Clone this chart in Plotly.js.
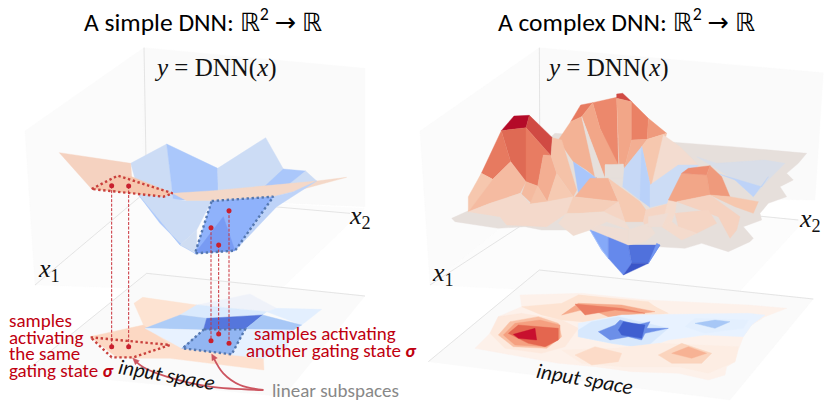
<!DOCTYPE html>
<html><head><meta charset="utf-8">
<script src="https://cdn.plot.ly/plotly-3.0.1.min.js"></script>
<style>html,body{margin:0;padding:0;background:#fff}#c{width:830px;height:407px}</style></head>
<body><div id="c"></div>
<script>
// Colour scales for the height (surface) and the projection on the input plane
const scaleStops = [-1,-0.75,-0.5,-0.3,-0.15,0,0.15,0.3,0.5,0.65,0.8,1];
const scaleColors = ['#3a55c8','#5f83ea','#8fb2fb','#adc9fb','#ccdcf5','#e4e0dd','#f4dccf','#f6c7ae','#f2a688','#ea8165','#d95f4c','#b40a28'];
const floorStops = [-1,-0.75,-0.5,-0.25,-0.12,0,0.2,0.4,0.6,0.8,1];
const floorColors = ['#3f5fd0','#6c8fe8','#9cc0f5','#d2e5fc','#e8f2ff','#fdf3ee','#fde3d2','#f9c4a8','#f5a080','#e4664f','#c8102e'];

// Panel 1: walls
const wallsA = [[432,143,75,393,105,855,425,590],[432,143,1095,205,1095,620,425,590],[105,855,425,590,1095,625,830,880],[440,820,1095,888,850,1190,75,1115]];
const wallColorsA = ['#fbfbfb','#fafafa','#fcfcfc','#fafafa'];
// Panel 1: lower plane, values per facet
const floorValsA = [0.2,0.22,0.27,-0.08,-0.15,-0.2,-0.42,-0.12,-0.88,-0.45,-0.13,-0.55];
const floorA = [
[402,910,428,892,590,915,640,945,435,985,420,950],
[435,985,620,990,700,1010,790,1075,792,1110,510,1075,398,1075,270,1010],
[270,1010,430,975,510,1035,398,1075,350,1072],
[590,915,750,882,830,925,800,935],
[830,925,965,928,905,975,800,935],
[540,945,590,915,800,935,788,945,620,955],
[435,985,540,945,620,955,610,990],
[435,985,610,990,545,1045],
[620,955,788,945,735,988,610,990],
[788,945,905,975,880,990,735,988],
[735,988,880,990,860,1045,790,1075,695,1065],
[610,990,735,988,695,1063,545,1045]];
const floorLoopRedA = [272,1012,510,1035,400,1072,335,1072];
const floorLoopBlueA = [612,988,735,988,695,1063,548,1045];

// Panel 1: surface, values per facet
const surfValsA = [-0.15,-0.32,-0.15,-0.32,-0.15,0.22,0.18,0.3,-0.15,-0.32,-0.13,-0.22,-0.5,-0.62];
const surfA = [
[392,490,500,432,520,600,420,590],
[500,432,653,505,655,600,520,600],
[653,505,797,413,850,507,815,600,655,600],
[850,507,917,513,820,600,750,600],
[917,513,950,543,880,570,820,590],
[178,458,392,490,395,530,275,567],
[518,580,640,572,950,543,1040,532,880,575,820,590,640,602,560,602],
[275,567,353,527,395,530,518,580,490,590],
[418,588,490,592,560,603,635,603,590,690,540,735],
[418,588,540,735,585,760,540,730,480,670],
[540,735,590,690,590,760],
[820,590,880,575,950,543,830,620,705,752],
[635,603,820,590,705,752,585,760],
[585,760,670,650,705,752]];
const surfLoopRedA = [275,567,353,527,518,580,490,590];
const surfLoopBlueA = [635,603,820,590,705,752,585,760];
const sampleX = [335,386,633,656,687];
const sampleTop = [557,558,683,735,632];
const sampleBottom = [1040,1040,1022,1002,1030];

// Panel 1: axis guide lines
const guidesA = [[432,143,440,590],[105,855,420,590],[820,620,1050,640],[440,820,1095,888],[440,820,75,1115]];
const arrowOne = [790,1170,630,1160,500,1130,430,1102,405,1082];
const arrowOneHead = [398,1074,418,1082,406,1094];
const arrowTwo = [790,1170,720,1155,670,1120,640,1072];
const arrowTwoHead = [635,1062,652,1074,636,1082];

// Panel 2: walls
const wallsB = [[373,143,15,393,45,855,375,590],[373,143,1225,218,1200,600,375,590],[45,855,375,590,1170,660,950,900],[373,810,1195,897,945,1200,40,1085]];
const wallColorsB = ['#fbfbfb','#fafafa','#fcfcfc','#fafafa'];
const guidesB = [[373,143,375,590],[45,855,375,640],[1030,648,1150,660],[373,810,1195,897],[373,810,40,1085]];

// Panel 2: lower plane
const floorValsB = [0.03,0.12,0.2,0.42,0.6,0.8,1,0.2,0.55,0.72,-0.12,-0.22,-0.75,-1,-0.15,-0.45,0.08,0.25,0.3,0.5];
const floorB = [
[180,1045,225,1000,250,950,320,920,315,885,500,880,700,900,1000,915,1115,925,1050,950,1010,975,985,1010,970,1050,960,1085,935,1100,930,1125,880,1140,790,1120,650,1115,540,1100,430,1090,270,1060],
[225,1000,250,950,320,940,440,960,490,985,450,1040,380,1060,270,1045],
[320,920,440,910,490,885,700,910,760,940,620,960,500,965,440,960,380,945],
[250,1005,285,965,370,950,430,970,440,1010,395,1045,295,1040],
[265,1005,300,970,375,960,435,975,435,1015,395,1040,300,1035],
[280,1000,310,975,430,985,430,1020,390,1040,340,1030],
[295,1003,360,985,365,1020,310,1015],
[490,885,700,905,740,935,640,945],
[440,945,490,910,620,915,720,935,640,945,580,950,520,925],
[480,912,620,925,690,940,600,930,510,945],
[490,970,620,945,1000,940,1050,945,1010,975,985,1010,870,1005,760,1020,690,1045,590,1030,490,1010],
[490,990,530,965,610,950,760,985,690,1045,590,1030,490,1010],
[550,995,600,975,615,960,665,975,705,965,695,985,760,985,690,1000,680,1020,640,1010,585,1020],
[610,990,625,965,690,975,680,1015,620,1005],
[810,980,840,955,1000,960,985,985,870,1000],
[840,970,900,960,945,965,900,985],
[440,1050,600,1045,730,1030,970,1040,960,1085,880,1120,790,1100,620,1100,500,1090],
[480,1065,540,1040,620,1060,610,1085,530,1095],
[730,1065,800,1030,890,1060,860,1090,770,1090],
[770,1060,820,1040,875,1060,830,1075]];

// Panel 2: surface base and far plateau
const baseValsB = [0.02,-0.07,-0.22];
const baseB = [
[110,655,165,630,420,400,830,430,950,440,1175,460,1150,490,1115,520,1135,540,1095,560,1115,590,1060,610,1035,640,1040,660,985,680,1015,715,1005,725,940,755,860,730,810,745,735,740,640,735,530,690,380,690,330,680,250,685,120,665],
[845,470,905,490,1050,480,1110,490,1060,540,1015,590,960,540],
[905,520,960,540,1015,590,1060,530,1040,560]];

const peakOriginB = [75,270];
const peakVals = [
 0.68,0.62,0.85,0.5,0.65,0.55,0.43,0.5,0.45,0.3,0.14,
 -0.33,0.02,0.02,-0.18,-0.24,-0.15,
 1,0.85,0.75,0.67,0.68,0.37,0.3,0.38,0.45,0.33,0.28,0.33,0.17,
 0.42,0.28,0.25,0.2,0.12,0.2];
const peakFacets = [
[392,95,422,45,458,38,425,80],
[458,38,530,22,535,240,480,115],
[530,12,548,10,575,35,530,25],
[530,25,575,35,575,150,553,235,538,225],
[575,35,625,85,622,148,575,150],
[625,85,680,130,622,148],
[355,150,392,95,425,80,470,265,440,240,400,215],
[425,80,458,38,480,115,535,225,495,222,495,265],
[575,150,622,148,605,170,553,235],
[605,170,622,148,680,130,640,290,630,285],
[670,135,720,170,775,225,715,225,635,285],
[400,215,440,245,470,265,415,308],
[425,80,495,265,465,260],
[495,225,550,222,553,238,548,265,495,265],
[553,235,605,170,630,285,600,330,548,290],
[605,170,630,285,630,352,600,330],
[630,285,715,225,775,225,700,335,630,352],
[184,122,222,78,268,76,258,113],
[268,76,337,143,333,197,258,113],
[184,122,258,113,258,275,212,215],
[258,113,333,197,310,195,293,288,258,275],
[184,122,212,215,158,268,124,250],
[124,250,158,268,212,215,258,275,240,310,150,340,85,365],
[85,320,124,250,158,268,85,365],
[258,275,293,288,275,340,245,312],
[310,195,333,197,350,250,322,335,293,288],
[337,143,365,150,410,300,400,320,350,250,333,197],
[350,250,400,320,322,335],
[293,288,322,335,270,342],
[85,365,150,340,240,310,270,342,320,335,400,320,405,325,380,370,320,410,200,405,180,380],
[405,320,450,265,505,265,535,335],
[505,265,600,335,618,360,610,395,555,395,535,335],
[400,320,535,335,490,365,420,370,380,372],
[535,335,555,395,490,365],
[380,370,420,370,490,365,555,395,570,420,500,395,450,420,400,437,355,400],
[618,360,690,340,685,375,620,420,610,395]];

// Panel 2: the blue bowl and the right hill
const bowlVals = [-0.55,-0.72,-0.85,-1,-0.65,-0.35];
const bowlB = [
[525,690,580,700,580,775,560,750],
[580,700,640,735,650,790,625,825,580,775],
[640,735,735,735,700,790,650,790],
[625,825,650,790,700,790],
[735,735,700,790,725,730],
[525,690,560,750,580,775,555,740]];
const hillVals = [0.16,0.5,0.6,0.55,0.3,0.22,0.2,0.16,0.09,0.1,0.1];
const hillB = [
[760,600,785,605,780,640,770,665,740,680],
[800,520,875,525,885,585,785,605,760,600],
[820,505,885,497,875,525,800,520],
[875,525,885,497,920,530,945,590,885,585],
[945,590,1030,605,1015,640,960,620,885,585],
[785,605,885,585,975,650,965,690,945,715,910,650],
[780,640,880,630,905,670,845,700,790,680],
[770,665,790,680,845,700,800,720,740,680],
[640,690,700,670,720,700,690,725,640,735],
[545,675,640,690,640,735,530,690],
[700,650,760,640,740,680,700,680]];

function mix(v,stops,colors){
  let i=0; while(i<stops.length-2 && v>stops[i+1]) i++;
  const t=Math.max(0,Math.min(1,(v-stops[i])/(stops[i+1]-stops[i])));
  const p=h=>[1,3,5].map(k=>parseInt(h.substr(k,2),16));
  const a=p(colors[i]),b=p(colors[i+1]);
  return 'rgb('+a.map((c,k)=>Math.round(c+(b[k]-c)*t)).join(',')+')';
}
const surfColor=v=>mix(v,scaleStops,scaleColors), floorColor=v=>mix(v,floorStops,floorColors);
const xs=p=>p.filter((_,i)=>i%2===0), ys=p=>p.filter((_,i)=>i%2===1);
const traces=[];
const ax=n=>n===1?{xaxis:'x',yaxis:'y'}:{xaxis:'x2',yaxis:'y2'};
function poly(p,color,n){const c=[...p,p[0],p[1]];traces.push({x:xs(c),y:ys(c),mode:'lines',fill:'toself',fillcolor:color,line:{color:color,width:0.4},hoverinfo:'skip',...ax(n)});}
function line(p,color,width,dash,n,close){const c=close?[...p,p[0],p[1]]:p;traces.push({x:xs(c),y:ys(c),mode:'lines',line:{color:color,width:width,dash:dash||'solid'},hoverinfo:'skip',...ax(n)});}
function curve(p,color,width,n){traces.push({x:xs(p),y:ys(p),mode:'lines',line:{color:color,width:width,shape:'spline',smoothing:1},hoverinfo:'skip',...ax(n)});}

const dotDash='2.4px,2.6px', redLoop='#c9403c', blueLoop='#5578b0', arrowCol='#cc5560';
wallsA.forEach((p,i)=>poly(p,wallColorsA[i],1));
guidesA.forEach(p=>line(p,'#dedede',0.8,null,1));
floorA.forEach((p,i)=>poly(p,floorColor(floorValsA[i]),1));
line(floorLoopBlueA,blueLoop,2.4,dotDash,1,true);
line(floorLoopRedA,redLoop,2.4,dotDash,1,true);
surfA.forEach((p,i)=>poly(p,surfColor(surfValsA[i]),1));
line(surfLoopRedA,redLoop,2.4,dotDash,1,true);
line(surfLoopBlueA,blueLoop,2.4,dotDash,1,true);
sampleX.forEach((x,i)=>{
  traces.push({x:[x,x],y:[sampleTop[i],sampleBottom[i]],mode:'lines+markers',line:{color:'#c9303a',width:1,dash:'3px,1.5px'},marker:{color:'#c9202e',size:5},hoverinfo:'skip',xaxis:'x',yaxis:'y'});
});
curve(arrowOne,arrowCol,1.8,1); poly(arrowOneHead,arrowCol,1);
curve(arrowTwo,arrowCol,1.8,1); poly(arrowTwoHead,arrowCol,1);

wallsB.forEach((p,i)=>poly(p,wallColorsB[i],2));
guidesB.forEach(p=>line(p,'#dedede',0.8,null,2));
floorB.forEach((p,i)=>poly(p,floorColor(floorValsB[i]),2));
baseB.forEach((p,i)=>poly(p,surfColor(baseValsB[i]),2));
peakFacets.forEach((p,i)=>poly(p.map((c,k)=>c+peakOriginB[k%2]),surfColor(peakVals[i]),2));
bowlB.forEach((p,i)=>poly(p,surfColor(bowlVals[i]),2));
hillB.forEach((p,i)=>poly(p,surfColor(hillVals[i]),2));

const sans='Carlito, Lato, "Noto Sans", sans-serif', serif='"Liberation Serif", "DejaVu Serif", serif';
const red='#c00010';
function note(text,x,y,n,size,color,family,anchor,angle){return {text,x,y,xref:n===1?'x':'x2',yref:n===1?'y':'y2',showarrow:false,xanchor:anchor||'left',yanchor:'middle',align:'left',textangle:angle||0,font:{size,color:color||'#000',family:family||sans}};}
const dbl='<span style="font-family:DejaVu Sans">ℝ</span>';
const annotations=[
 note('A simple DNN: '+dbl+'<sup>2</sup> <span style="font-family:DejaVu Sans">→</span> '+dbl,610,60,1,25.5,'#000',sans,'center'),
 note('A complex DNN: '+dbl+'<sup>2</sup> <span style="font-family:DejaVu Sans">→</span> '+dbl,635,60,2,25.5,'#000',sans,'center'),
 note('<i>y</i> = DNN(<i>x</i>)',645,203,1,25,'#111',serif,'center'),
 note('<i>y</i> = DNN(<i>x</i>)',578,203,2,25,'#111',serif,'center'),
 note('<i>x</i><sub>1</sub>',147,810,1,26,'#111',serif,'center'),
 note('<i>x</i><sub>2</sub>',1080,650,1,26,'#111',serif,'center'),
 note('<i>x</i><sub>1</sub>',85,822,2,26,'#111',serif,'center'),
 note('<i>x</i><sub>2</sub>',1185,660,2,26,'#111',serif,'center'),
 note('samples',22,962,1,19,red),
 note('activating',22,1012,1,19,red),
 note('the same',22,1060,1,19,red),
 note('gating state <b><i>σ</i></b>',22,1110,1,19,red),
 note('samples activating',757,1000,1,19,red),
 note('another gating state <b><i>σ</i></b>',733,1050,1,19,red),
 note('<i>input space</i>',500,1125,1,21,'#111',sans,'center',10),
 note('<i>input space</i>',507,1137,2,21,'#111',sans,'center',10),
 note('linear subspaces',810,1172,1,19,'#888')
];
const hid=(dom,range)=>({domain:dom,range,visible:false,fixedrange:true});
const layout={width:830,height:407,margin:{l:0,r:0,t:0,b:0},showlegend:false,paper_bgcolor:'#fff',plot_bgcolor:'#fff',
 xaxis:hid([0,0.5],[0,1245]),yaxis:hid([0,1],[1221,0]),xaxis2:hid([0.5,1],[0,1245]),yaxis2:hid([0,1],[1221,0]),annotations};
Plotly.newPlot('c',traces,layout,{staticPlot:true,displayModeBar:false});
</script></body></html>
